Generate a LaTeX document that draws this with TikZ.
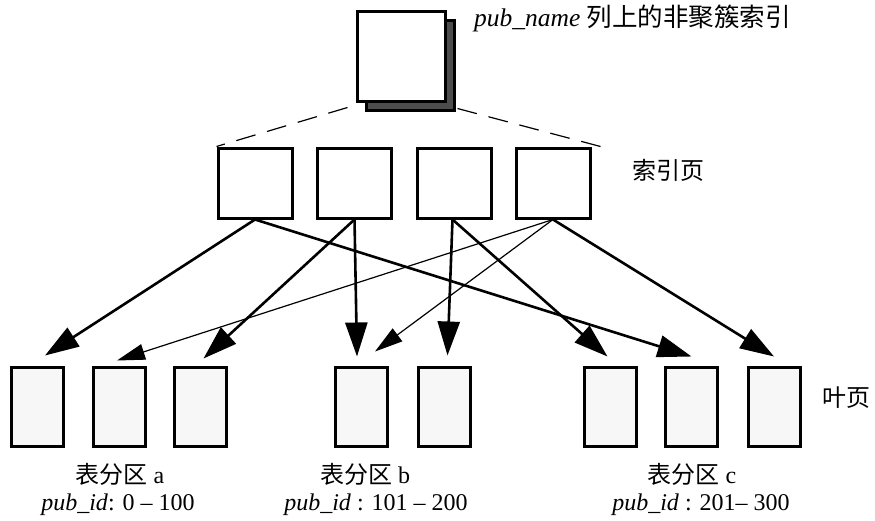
\documentclass[tikz,border=0pt]{standalone}
\usepackage{fontspec}
\setmainfont{Liberation Serif}
\newfontfamily\cjk{Noto Sans CJK SC}
\newcommand{\zh}[1]{{\cjk #1}}
\usetikzlibrary{arrows.meta}

\begin{document}
\begin{tikzpicture}[x=1pt,y=-1pt,
        idxbox/.style={draw,line width=3pt,fill=white,minimum width=74pt,minimum height=70pt,inner sep=0pt},
        leafbox/.style={draw,line width=3pt,fill=gray!6,minimum width=52pt,minimum height=79pt,inner sep=0pt},
        bigarrow/.style={line width=2.6pt,-{Triangle[length=34pt,width=22pt]}},
        smallarrow/.style={line width=1.2pt,-{Triangle[length=28pt,width=16pt]}},
        lbl/.style={font=\fontsize{24}{28}\selectfont,inner sep=0pt}]
        \useasboundingbox (0,0) rectangle (875,520);

        % top index page with its shadow
        \node[draw,line width=3pt,fill=black!70,minimum width=88pt,minimum height=90pt] (topshadow) at (410,65) {};
        \node[draw,line width=3pt,fill=white,minimum width=88pt,minimum height=90pt] (top) at (401,56) {};
        \node[lbl,anchor=west,font=\fontsize{25.5}{28}\selectfont] (title) at (474,18) {\textit{pub\_name} \zh{列上的非聚簇索引}};

        % index pages
        \node[idxbox] (ib1) at (255,183) {};
        \node[idxbox] (ib2) at (354.5,183) {};
        \node[idxbox] (ib3) at (454.5,183) {};
        \node[idxbox] (ib4) at (553,183) {};
        \node[lbl,anchor=west] (idxlabel) at (632,170) {\zh{索引页}};

        % dashed lines down from the top page
        \draw[line width=1.2pt,dash pattern=on 20pt off 12pt] ([xshift=-8pt,yshift=-5pt]top.south west) -- (ib1.north west);
        \draw[line width=1.2pt,dash pattern=on 20pt off 12pt] ([xshift=2pt,yshift=3pt]topshadow.south east) -- ([xshift=9pt]ib4.north east);

        % leaf pages
        \node[leafbox] (leaf1) at (37,406.5) {};
        \node[leafbox] (leaf2) at (119,406.5) {};
        \node[leafbox] (leaf3) at (200.5,406.5) {};
        \node[leafbox] (leaf4) at (361,406.5) {};
        \node[leafbox] (leaf5) at (444.5,406.5) {};
        \node[leafbox] (leaf6) at (610.5,406.5) {};
        \node[leafbox] (leaf7) at (691.5,406.5) {};
        \node[leafbox] (leaf8) at (774,406.5) {};
        \node[lbl,anchor=west] (leaflabel) at (822,398) {\zh{叶页}};

        % arrows from index pages to leaf pages
        \draw[bigarrow] (ib1.south) -- ([xshift=8pt,yshift=10pt]leaf1.north);
        \draw[bigarrow] (ib1.south) -- ([yshift=9pt]leaf7.north);
        \draw[bigarrow] (ib2.south) -- ([xshift=3pt,yshift=7pt]leaf3.north);
        \draw[bigarrow] (ib2.south) -- ([xshift=-4pt,yshift=9pt]leaf4.north);
        \draw[bigarrow] ([xshift=-2pt]ib3.south) -- ([xshift=3pt,yshift=10pt]leaf5.north);
        \draw[bigarrow] ([xshift=-2pt]ib3.south) -- ([xshift=-3pt,yshift=9pt]leaf6.north);
        \draw[bigarrow] (ib4.south) -- ([yshift=9pt]leaf8.north);
        \draw[smallarrow] (ib4.south) -- ([xshift=-2pt,yshift=5pt]leaf2.north);
        \draw[smallarrow] (ib4.south) -- ([xshift=14pt,yshift=14pt]leaf4.north);

        % partition names and ranges
        \node[lbl] (parta) at (120,474) {\zh{表分区} a};
        \node[lbl] (rangea) at (118,505) {\textit{pub\_id}: 0 -- 100};
        \node[lbl] (partb) at (365,474) {\zh{表分区} b};
        \node[lbl] (rangeb) at (376,505) {\textit{pub\_id} : 101 -- 200};
        \node[lbl] (partc) at (692,474) {\zh{表分区} c};
        \node[lbl] (rangec) at (701,505) {\textit{pub\_id} : 201-- 300};

\end{tikzpicture}
\end{document}
